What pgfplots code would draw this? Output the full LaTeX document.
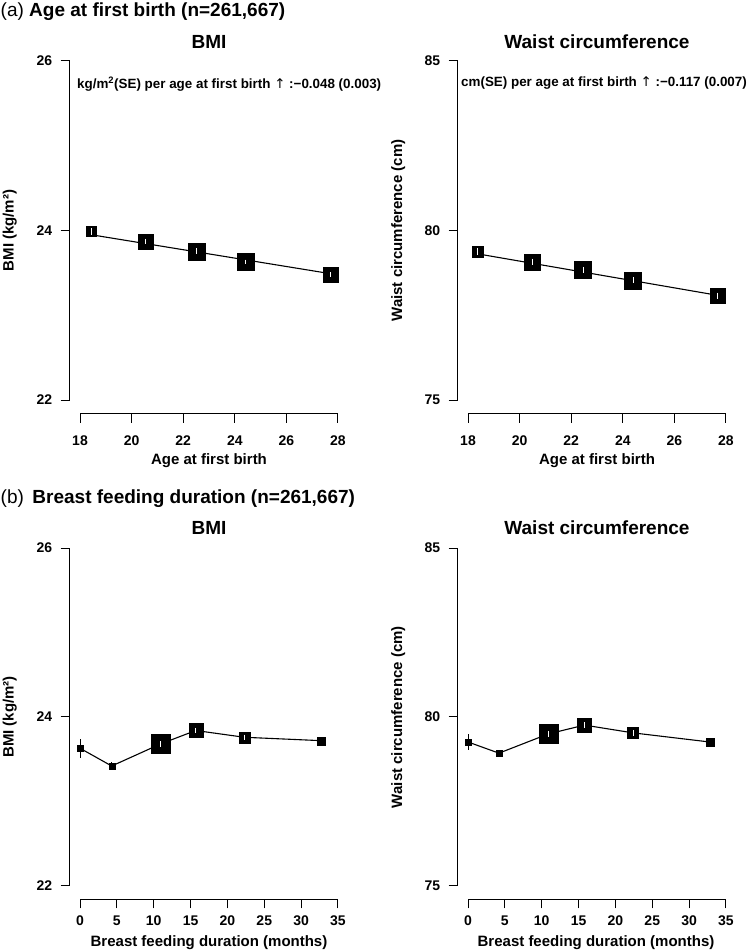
\documentclass[border=0pt]{standalone}
\usepackage{fontspec}
\setmainfont{Liberation Sans}
\newfontfamily\dejavu{DejaVu Sans}
\usepackage{pgfplots}
\usepackage{pgfplotstable}
\pgfplotsset{compat=1.18}

% top-left: BMI vs age at first birth
\pgfplotstableread{
x     y      s   w
18.43 23.99  10  0.04
20.55 23.87  15  0.03
22.52 23.755 17  0.035
24.43 23.63  17  0.025
27.72 23.48  15  0.03
}\tabA
% top-right: waist vs age at first birth
\pgfplotstableread{
x     y      s   w
18.38 79.38  11  0.10
20.49 79.08  16  0.09
22.46 78.84  17  0.09
24.40 78.53  17  0.09
27.66 78.07  15  0.10
}\tabB
% bottom-left: BMI vs breast feeding
\pgfplotstableread{
x     y      s   e     w
0.0   23.63  6   0.11  0
4.3   23.42  6   0.05  0
10.9  23.68  19  0.04  0.035
15.7  23.84  14  0.03  0.03
22.3  23.76  11  0.03  0.03
32.7  23.72  8   0.03  0
}\tabC
% bottom-right: waist vs breast feeding
\pgfplotstableread{
x     y      s   e     w
0.0   79.26  6   0.25  0
4.2   78.93  6   0.10  0
10.9  79.50  19  0.10  0.09
15.8  79.76  14  0.08  0.08
22.4  79.53  11  0.08  0.08
32.8  79.26  8   0.06  0
}\tabD

\pgfplotsset{
  rstyle/.style={
    scale only axis, anchor=south west, width=278.6pt,
    axis line style={draw=none},
    xtick pos=left, ytick pos=left,
    tick align=outside, major tick length=9pt,
    tick style={black, line width=1pt},
    every tick label/.append style={font=\fontsize{14}{16}\selectfont\bfseries},
    /pgf/number format/assume math mode=true,
    yticklabel style={xshift=-5pt},
    clip=false,
  },
  sq/.style={scatter, only marks, mark=square*, line width=0.3pt,
    scatter/use mapped color={draw=black, fill=black},
    visualization depends on={\thisrow{s}/2 \as \msize},
    scatter/@pre marker code/.append style={/tikz/mark size=\msize}},
  % white confidence bar inside the square, length in pt = w * (pt per unit)
  wbar/.style={scatter, only marks, mark=|, forget plot,
    scatter/use mapped color={draw=white, fill=white},
    mark options={line width=1.1pt, line cap=butt},
    visualization depends on={\thisrow{w}*#1 \as \wsz},
    scatter/@pre marker code/.append style={/tikz/mark size=\wsz}},
  berr/.style={only marks, mark=none, forget plot,
    error bars/.cd, y dir=both, y explicit, error mark=none,
    error bar style={black, line width=1pt}},
}
\tikzset{axln/.style={line width=1.1pt, black}}

\begin{document}
\begin{tikzpicture}[x=1pt,y=1pt]
\useasboundingbox (0,0) rectangle (749,951);

% ---------- headings ----------
\node[anchor=base west, inner sep=0pt] at (0.5,934.3) {\fontsize{19}{22}\selectfont (a) \textbf{Age at first birth (n=261,667)}};
\node[anchor=base west, inner sep=0pt] at (0.5,447) {\fontsize{19}{22}\selectfont (b)\hspace{0.45em}\textbf{Breast feeding duration (n=261,667)}};

% ---------- top-left ----------
\begin{axis}[rstyle, at={(69.7pt,537.4pt)}, height=366.2pt,
  xmin=17.6, xmax=28.4, ymin=21.84, ymax=26.16,
  xtick={18,20,22,24,26,28}, ytick={22,24,26},
  xticklabel style={yshift=-10pt}]
  \draw[axln] (axis cs:18,21.84) -- (axis cs:28,21.84);
  \draw[axln] (axis cs:17.6,22) -- (axis cs:17.6,26);
  \addplot[black, line width=1.1pt, mark=none] coordinates {(18.43,23.95) (27.72,23.49)};
  \addplot[sq] table[x=x, y=y] {\tabA};
  \addplot[wbar=84.75] table[x=x, y=y] {\tabA};
\end{axis}

% ---------- top-right ----------
\begin{axis}[rstyle, at={(457.7pt,537.4pt)}, height=366.2pt,
  xmin=17.6, xmax=28.4, ymin=74.6, ymax=85.4,
  xtick={18,20,22,24,26,28}, ytick={75,80,85},
  xticklabel style={yshift=-10pt}]
  \draw[axln] (axis cs:18,74.6) -- (axis cs:28,74.6);
  \draw[axln] (axis cs:17.6,75) -- (axis cs:17.6,85);
  \addplot[black, line width=1.1pt, mark=none] coordinates {(18.38,79.31) (27.66,78.09)};
  \addplot[sq] table[x=x, y=y] {\tabB};
  \addplot[wbar=33.9] table[x=x, y=y] {\tabB};
\end{axis}

% ---------- bottom-left ----------
\begin{axis}[rstyle, at={(69.7pt,51.5pt)}, height=365pt,
  xmin=-1.4, xmax=36.4, ymin=21.84, ymax=26.16,
  xtick={0,5,...,35}, ytick={22,24,26},
  xticklabel style={yshift=-3.7pt}]
  \draw[axln] (axis cs:0,21.84) -- (axis cs:35,21.84);
  \draw[axln] (axis cs:-1.4,22) -- (axis cs:-1.4,26);
  \addplot[berr] table[x=x, y=y, y error=e] {\tabC};
  \addplot[black, line width=1.1pt, mark=none] table[x=x, y=y] {\tabC};
  \addplot[sq] table[x=x, y=y] {\tabC};
  \addplot[wbar=84.5] table[x=x, y=y] {\tabC};
\end{axis}

% ---------- bottom-right ----------
\begin{axis}[rstyle, at={(457.7pt,51.5pt)}, height=365pt,
  xmin=-1.4, xmax=36.4, ymin=74.6, ymax=85.4,
  xtick={0,5,...,35}, ytick={75,80,85},
  xticklabel style={yshift=-3.7pt}]
  \draw[axln] (axis cs:0,74.6) -- (axis cs:35,74.6);
  \draw[axln] (axis cs:-1.4,75) -- (axis cs:-1.4,85);
  \addplot[berr] table[x=x, y=y, y error=e] {\tabD};
  \addplot[black, line width=1.1pt, mark=none] table[x=x, y=y] {\tabD};
  \addplot[sq] table[x=x, y=y] {\tabD};
  \addplot[wbar=33.8] table[x=x, y=y] {\tabD};
\end{axis}

% ---------- titles ----------
\node[anchor=base, inner sep=0pt] at (209,902) {\fontsize{19}{22}\selectfont\bfseries BMI};
\node[anchor=base, inner sep=0pt] at (597,902) {\fontsize{19}{22}\selectfont\bfseries Waist circumference};
\node[anchor=base, inner sep=0pt] at (209,416) {\fontsize{19}{22}\selectfont\bfseries BMI};
\node[anchor=base, inner sep=0pt] at (597,416) {\fontsize{19}{22}\selectfont\bfseries Waist circumference};

% ---------- annotations ----------
\node[anchor=base west, inner sep=0pt] at (77,862) {\fontsize{13.4}{15}\selectfont\bfseries kg/m\textsuperscript{2}(SE) per age at first birth {\dejavu\mdseries ↑} :−0.048 (0.003)};
\node[anchor=base west, inner sep=0pt] at (461,864.3) {\fontsize{13.4}{15}\selectfont\bfseries cm(SE) per age at first birth {\dejavu\mdseries ↑} :−0.117 (0.007)};

% ---------- x labels ----------
\node[anchor=base, inner sep=0pt] at (209,486.7) {\fontsize{15}{17}\selectfont\bfseries Age at first birth};
\node[anchor=base, inner sep=0pt] at (597,486.7) {\fontsize{15}{17}\selectfont\bfseries Age at first birth};
\node[anchor=base, inner sep=0pt] at (209,5) {\fontsize{15}{17}\selectfont\bfseries Breast feeding duration (months)};
\node[anchor=base, inner sep=0pt] at (596,5) {\fontsize{15}{17}\selectfont\bfseries Breast feeding duration (months)};

% ---------- y labels ----------
\node[anchor=base, rotate=90, inner sep=0pt] at (13.5,720.5) {\fontsize{15}{17}\selectfont\bfseries BMI (kg/m²)};
\node[anchor=base, rotate=90, inner sep=0pt] at (402,720.5) {\fontsize{15}{17}\selectfont\bfseries Waist circumference (cm)};
\node[anchor=base, rotate=90, inner sep=0pt] at (13.5,234) {\fontsize{15}{17}\selectfont\bfseries BMI (kg/m²)};
\node[anchor=base, rotate=90, inner sep=0pt] at (402,234) {\fontsize{15}{17}\selectfont\bfseries Waist circumference (cm)};
\end{tikzpicture}
\end{document}
